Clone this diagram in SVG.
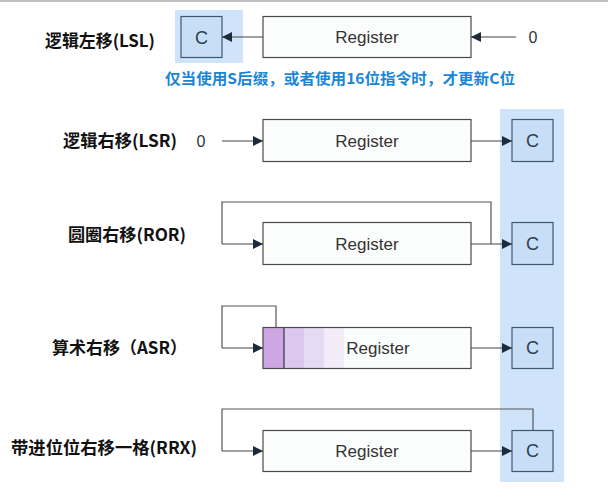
<svg xmlns="http://www.w3.org/2000/svg" width="608" height="492" viewBox="0 0 608 492">
<defs>
<marker id="ah" markerWidth="10" markerHeight="10" refX="10" refY="5" orient="auto" markerUnits="userSpaceOnUse">
<path d="M0,0 L10,5 L0,10 z" fill="#1d2b3a"/>
</marker>
<style>
.reg{fill:#fbfcfc;stroke:#4a4a4a;stroke-width:1.2}
.cb{fill:#c8def6;stroke:#3f5872;stroke-width:1.2}
.hl{fill:#cfe4fa}
.lbl{font-family:"Noto Sans CJK SC","Noto Sans",sans-serif;font-weight:bold;font-size:17px;fill:#111}
.rt{font-family:"Liberation Sans",Arial,sans-serif;font-size:17px;fill:#333;text-anchor:middle}
.ct{font-family:"Liberation Sans",Arial,sans-serif;font-size:18px;fill:#2c3e50;text-anchor:middle}
.zt{font-family:"Liberation Sans",Arial,sans-serif;font-size:16px;fill:#333;text-anchor:middle}
.ar{fill:none;stroke:#444;stroke-width:1.2;marker-end:url(#ah)}
.lp{fill:none;stroke:#555;stroke-width:1.2}
.note{font-family:"Noto Sans CJK SC","Noto Sans",sans-serif;font-weight:bold;font-size:15px;fill:#1a86d6}
</style>
</defs>
<rect x="0" y="0" width="608" height="492" fill="#ffffff"/>
<line x1="0" y1="1" x2="608" y2="1" stroke="#aaaaaa" stroke-width="1.5"/>

<!-- highlights -->
<rect class="hl" x="175" y="10" width="68" height="53"/>
<rect class="hl" x="500" y="109" width="64" height="373"/>

<!-- labels -->
<g id="labels">
<text class="lbl" x="45" y="47" textLength="110" lengthAdjust="spacingAndGlyphs">逻辑左移(LSL)</text>
<text class="lbl" x="63" y="147" textLength="114" lengthAdjust="spacingAndGlyphs">逻辑右移(LSR)</text>
<text class="lbl" x="68" y="241" textLength="118" lengthAdjust="spacingAndGlyphs">圆圈右移(ROR)</text>
<text class="lbl" x="52" y="354" textLength="135" lengthAdjust="spacingAndGlyphs">算术右移（ASR）</text>
<text class="lbl" x="11" y="454" textLength="186" lengthAdjust="spacingAndGlyphs">带进位位右移一格(RRX)</text>
<text class="note" x="165" y="84" textLength="350" lengthAdjust="spacingAndGlyphs">仅当使用S后缀，或者使用16位指令时，才更新C位</text>
</g>

<!-- LSL -->
<g id="lsl-c"><rect class="cb" x="181" y="16.5" width="41" height="41"/><text class="ct" x="201.5" y="43.5">C</text></g>
<g id="lsl-reg"><rect class="reg" x="263" y="16.5" width="208" height="41"/><text class="rt" x="367" y="43">Register</text></g>
<g id="lsl-zero"><text class="zt" x="533" y="43">0</text></g>

<!-- LSR -->
<g id="lsr-zero"><text class="zt" x="201" y="147">0</text></g>
<g id="lsr-reg"><rect class="reg" x="263" y="119.5" width="208" height="42"/><text class="rt" x="367" y="147">Register</text></g>
<g id="lsr-c"><rect class="cb" x="512" y="119.5" width="41" height="42"/><text class="ct" x="532.5" y="147">C</text></g>

<!-- ROR -->
<g id="ror-reg"><rect class="reg" x="263" y="222.5" width="208" height="42"/><text class="rt" x="367" y="250">Register</text></g>
<g id="ror-c"><rect class="cb" x="512" y="222.5" width="41" height="42"/><text class="ct" x="532.5" y="250">C</text></g>

<!-- ASR -->
<g id="asr-reg">
<rect x="263" y="327.5" width="208" height="41" fill="#fbfcfc"/>
<rect x="263" y="327.5" width="21" height="41" fill="#cda7e3"/>
<rect x="284" y="327.5" width="20" height="41" fill="#dcc8ee"/>
<rect x="304" y="327.5" width="20" height="41" fill="#e7dbf3"/>
<rect x="324" y="327.5" width="20" height="41" fill="#f2ecf9"/>
<line x1="284" y1="327.5" x2="284" y2="368.5" stroke="#333" stroke-width="1.2"/>
<rect x="263" y="327.5" width="208" height="41" fill="none" stroke="#4a4a4a" stroke-width="1.2"/>
<text class="rt" x="378" y="354">Register</text>
</g>
<g id="asr-c"><rect class="cb" x="512" y="327.5" width="41" height="41"/><text class="ct" x="532.5" y="354">C</text></g>

<!-- RRX -->
<g id="rrx-reg"><rect class="reg" x="263" y="430.5" width="208" height="41"/><text class="rt" x="367" y="457">Register</text></g>
<g id="rrx-c"><rect class="cb" x="512" y="430.5" width="41" height="41"/><text class="ct" x="532.5" y="457">C</text></g>

<!-- connectors -->
<g id="connectors">
<line class="ar" x1="263" y1="37" x2="222" y2="37"/>
<line class="ar" x1="516" y1="37" x2="471" y2="37"/>

<line class="ar" x1="222" y1="141" x2="263" y2="141"/>
<line class="ar" x1="471" y1="141" x2="512" y2="141"/>

<line class="ar" x1="471" y1="244" x2="512" y2="244"/>
<polyline class="lp" points="491,244 491,202 222,202 222,244"/>
<line class="ar" x1="222" y1="244" x2="263" y2="244"/>

<polyline class="lp" points="276,327.5 276,306 222,306 222,348"/>
<line class="ar" x1="222" y1="348" x2="263" y2="348"/>
<line class="ar" x1="471" y1="348" x2="512" y2="348"/>

<polyline class="lp" points="533,430.5 533,409 222,409 222,451"/>
<line class="ar" x1="222" y1="451" x2="263" y2="451"/>
<line class="ar" x1="471" y1="451" x2="512" y2="451"/>
</g>
</svg>
